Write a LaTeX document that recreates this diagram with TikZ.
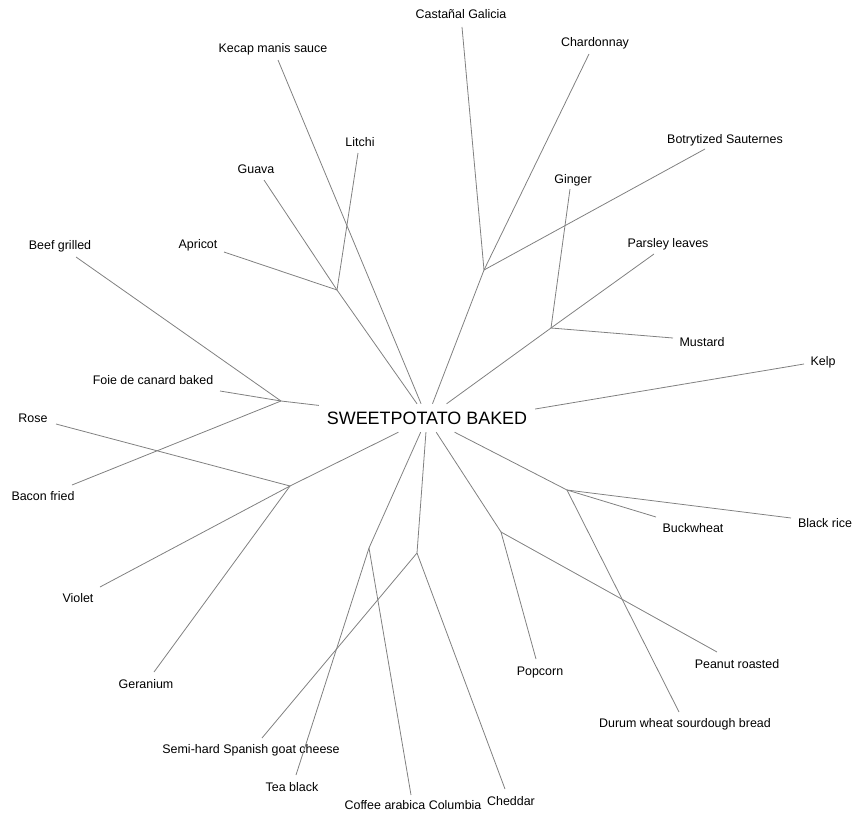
\documentclass[tikz,border=0pt]{standalone}
\usepackage{fontspec}
\setmainfont{Liberation Sans}
\definecolor{branch}{RGB}{128,128,128}

\begin{document}
\begin{tikzpicture}[x=1bp,y=-1bp]
\useasboundingbox (0,0) rectangle (864,821);

        \node[inner sep=0pt, minimum width=216bp, minimum height=28bp,
              font=\fontsize{18}{20}\selectfont] (sp) at (427,418) {SWEETPOTATO BAKED};

        \begin{scope}[every node/.style={anchor=base, inner sep=0pt, font=\fontsize{12.5}{14}\selectfont}]
          \node (castanal)   at (461,18.5) {Castañal Galicia};
          \node (kecap)      at (273,53)  {Kecap manis sauce};
          \node (chardonnay) at (595,47)  {Chardonnay};
          \node (litchi)     at (360,146) {Litchi};
          \node (sauternes)  at (725,143) {Botrytized Sauternes};
          \node (guava)      at (256,173) {Guava};
          \node (ginger)     at (573,183) {Ginger};
          \node (apricot)    at (198,248) {Apricot};
          \node (beef)       at (60,249)  {Beef grilled};
          \node (parsley)    at (668,247) {Parsley leaves};
          \node (mustard)    at (702,346) {Mustard};
          \node (kelp)       at (823,365) {Kelp};
          \node (foie)       at (153,384) {Foie de canard baked};
          \node (rose)       at (33,422)  {Rose};
          \node (bacon)      at (43,500)  {Bacon fried};
          \node (buckwheat)  at (693,532) {Buckwheat};
          \node (blackrice)  at (825,527) {Black rice};
          \node (violet)     at (78,602)  {Violet};
          \node (popcorn)    at (540,675) {Popcorn};
          \node (peanut)     at (737,668) {Peanut roasted};
          \node (geranium)   at (146,688) {Geranium};
          \node (durum)      at (685,727) {Durum wheat sourdough bread};
          \node (goat)       at (251,753) {Semi-hard Spanish goat cheese};
          \node (tea)        at (292,791) {Tea black};
          \node (coffee)     at (413,809) {Coffee arabica Columbia};
          \node (cheddar)    at (511,805) {Cheddar};
        \end{scope}

        % inner branch points
        \coordinate (fruit)  at (337,290);
        \coordinate (wine)   at (484,270);
        \coordinate (spice)  at (551,328);
        \coordinate (meat)   at (281,401);
        \coordinate (flower) at (290,486);
        \coordinate (brew)   at (369,548);
        \coordinate (cheese) at (417,553);
        \coordinate (nut)    at (501,532);
        \coordinate (grain)  at (567,490);

        % tips
        \coordinate (castanal-t)   at (462,27);
        \coordinate (kecap-t)      at (278,60);
        \coordinate (chardonnay-t) at (589,54);
        \coordinate (litchi-t)     at (358,153);
        \coordinate (sauternes-t)  at (705,149);
        \coordinate (guava-t)      at (264,180);
        \coordinate (ginger-t)     at (570,189);
        \coordinate (apricot-t)    at (224,252);
        \coordinate (beef-t)       at (76,257);
        \coordinate (parsley-t)    at (654,254);
        \coordinate (mustard-t)    at (673,338);
        \coordinate (kelp-t)       at (804,364);
        \coordinate (foie-t)       at (220,391);
        \coordinate (rose-t)       at (56,424);
        \coordinate (bacon-t)      at (72,485);
        \coordinate (buckwheat-t)  at (656,517);
        \coordinate (blackrice-t)  at (791,518);
        \coordinate (violet-t)     at (100,587);
        \coordinate (popcorn-t)    at (536,659);
        \coordinate (peanut-t)     at (717,652);
        \coordinate (geranium-t)   at (154,672);
        \coordinate (durum-t)      at (679,712);
        \coordinate (goat-t)       at (262,738);
        \coordinate (tea-t)        at (296,775);
        \coordinate (coffee-t)     at (411,795);
        \coordinate (cheddar-t)    at (505,789);

        \begin{scope}[every edge/.style={draw=branch, line width=0.8pt}]
          \path (fruit)  edge (sp);
          \path (kecap-t) edge (sp);
          \path (wine)   edge (sp);
          \path (spice)  edge (sp);
          \path (meat)   edge (sp);
          \path (kelp-t) edge ([yshift=9bp]sp.east);
          \path (flower) edge (sp);
          \path (brew)   edge (sp);
          \path (cheese) edge (sp);
          \path (nut)    edge (sp);
          \path (grain)  edge (sp);

          \path (fruit)  edge (apricot-t) edge (guava-t) edge (litchi-t);
          \path (wine)   edge (castanal-t) edge (chardonnay-t) edge (sauternes-t);
          \path (spice)  edge (ginger-t) edge (parsley-t) edge (mustard-t);
          \path (meat)   edge (beef-t) edge (foie-t) edge (bacon-t);
          \path (flower) edge (rose-t) edge (violet-t) edge (geranium-t);
          \path (brew)   edge (tea-t) edge (coffee-t);
          \path (cheese) edge (goat-t) edge (cheddar-t);
          \path (nut)    edge (popcorn-t) edge (peanut-t);
          \path (grain)  edge (buckwheat-t) edge (blackrice-t) edge (durum-t);
        \end{scope}

\end{tikzpicture}
\end{document}
